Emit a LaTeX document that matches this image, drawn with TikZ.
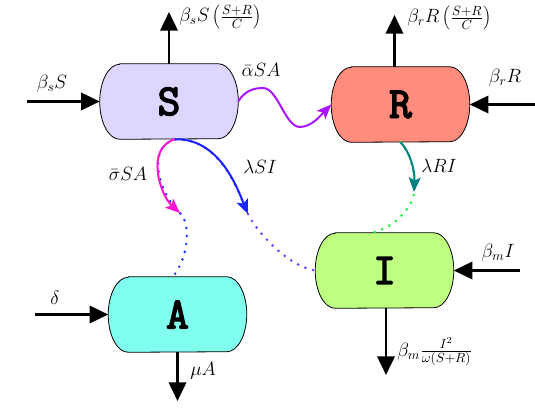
\documentclass[tikz,border=0pt]{standalone}
\usepackage{fontspec}
\newfontfamily\boxfont{Latin Modern Mono}[FakeBold=3.5]
\usetikzlibrary{arrows.meta,calc,backgrounds}
\definecolor{sfill}{RGB}{221,214,255}
\definecolor{rfill}{RGB}{255,140,125}
\definecolor{afill}{RGB}{128,255,238}
\definecolor{ifill}{RGB}{190,255,130}
\definecolor{wavec}{RGB}{170,20,255}
\definecolor{bluec}{RGB}{25,35,255}
\definecolor{magc}{RGB}{255,20,210}
\definecolor{tealc}{RGB}{0,128,128}
\definecolor{greendot}{RGB}{20,250,70}
\definecolor{purpdot}{RGB}{115,60,255}
\definecolor{bluedot}{RGB}{40,60,255}
\newcommand\mycapsule[2]{%
  \draw[fill=#2, line width=0.6pt] ($(#1.north west)+(15pt,0pt)$) -- ($(#1.north east)+(-15pt,0pt)$)
    arc[start angle=90,end angle=-90,x radius=15pt,y radius=28.125pt]
    -- ($(#1.south west)+(15pt,0pt)$)
    arc[start angle=270,end angle=90,x radius=15pt,y radius=28.125pt] -- cycle;}
\begin{document}
\begin{tikzpicture}[x=0.75pt,y=-0.75pt,
  comp/.style={rectangle, minimum width=103.5pt, minimum height=56.25pt, inner sep=0pt,
    font=\boxfont\fontsize{33}{33}\selectfont},
  flow/.style={line width=2pt, -{Triangle[length=14pt,width=13pt]}},
  lbl/.style={font=\Large, inner sep=0pt},
  trans/.style={line width=1.5pt, -{Stealth[length=11pt,width=9pt,inset=2.5pt]}},
  dots/.style={line width=2.2pt, line cap=round, dash pattern=on 0pt off 6pt}]
\useasboundingbox (0,0) rectangle (535,407);

% compartments
\node[comp] (S) at (169,101.5) {S};
\node[comp] (R) at (400.5,104.5) {R};
\node[comp] (A) at (177.5,314.5) {A};
\node[comp] (I) at (384.5,270.5) {I};
\begin{scope}[on background layer]
\mycapsule{S}{sfill}
\mycapsule{R}{rfill}
\mycapsule{A}{afill}
\mycapsule{I}{ifill}
\end{scope}

% free ends
\coordinate (sin) at (27,101.5);
\coordinate (sout) at (169,12);
\coordinate (rtop) at ($(R.north)+(-6,0)$);
\coordinate (rout) at (394.5,15);
\coordinate (rin) at (535,104.5);
\coordinate (ain) at (35,314.5);
\coordinate (aout) at (177.5,401);
\coordinate (iin) at (520,270.5);
\coordinate (ibot) at ($(I.south)+(1.5,0)$);
\coordinate (iout) at (386,375);

% black flows
\draw[flow] (sin) -- (S.west);
\draw[flow] (S.north) -- (sout);
\draw[flow] (rtop) -- (rout);
\draw[flow] (rin) -- (R.east);
\draw[flow] (ain) -- (A.west);
\draw[flow] (A.south) -- (aout);
\draw[flow] (iin) -- (I.east);
\draw[flow] (ibot) -- (iout);

% flow labels
\node[lbl] (l1) at (52,84) {$\beta_s S$};
\node[lbl, anchor=west] (l2) at (179,17) {$\beta_s S\left(\frac{S+R}{C}\right)$};
\node[lbl, anchor=west] (l3) at (407,18) {$\beta_r R\left(\frac{S+R}{C}\right)$};
\node[lbl] (l4) at (505,78) {$\beta_r R$};
\node[lbl] (l5) at (55,298) {$\delta$};
\node[lbl] (l6) at (203,371) {$\mu A$};
\node[lbl] (l7) at (498,253) {$\beta_m I$};
\node[lbl, anchor=west] (l8) at (397,352) {$\beta_m\frac{I^2}{\omega(S+R)}$};

% transition points
\coordinate (s0) at ($(S.south)+(6,0)$);
\coordinate (m1) at (180,213);
\coordinate (m2) at (248,214);
\coordinate (m3) at (414,192);
\coordinate (atop) at ($(A.north)+(-4.5,0)$);
\coordinate (itop) at ($(I.north)+(-12.5,0)$);

% dotted backgrounds
\draw[dots, bluedot] (s0) .. controls (145,148) and (160,195) .. (m1)
  .. controls (190,222) and (190,255) .. (atop);
\draw[dots, purpdot] (s0) .. controls (220,138) and (238,190) .. (m2)
  .. controls (252,224) and (283,265) .. (I.west);
\draw[dots, greendot] (R.south) .. controls (410,152) and (415,170) .. (m3)
  .. controls (414,205) and (395,228) .. (itop);

% solid transitions
\draw[trans, magc] (s0) .. controls (145,148) and (160,195) .. (m1);
\draw[trans, bluec] (s0) .. controls (220,138) and (238,190) .. (m2);
\draw[trans, tealc] (R.south) .. controls (410,152) and (415,170) .. (m3);
\draw[trans, wavec] (S.east) .. controls (245,90) and (255,88) .. (263,88)
  .. controls (278,88) and (285,127) .. (300,127)
  .. controls (312,127) and (322,114) .. (R.west);

% transition labels
\node[lbl] (t1) at (261,70) {$\bar{\alpha} S A$};
\node[lbl] (t2) at (128,174) {$\bar{\sigma} S A$};
\node[lbl] (t3) at (260,167) {$\lambda S I$};
\node[lbl] (t4) at (439,166) {$\lambda R I$};
\end{tikzpicture}
\end{document}
